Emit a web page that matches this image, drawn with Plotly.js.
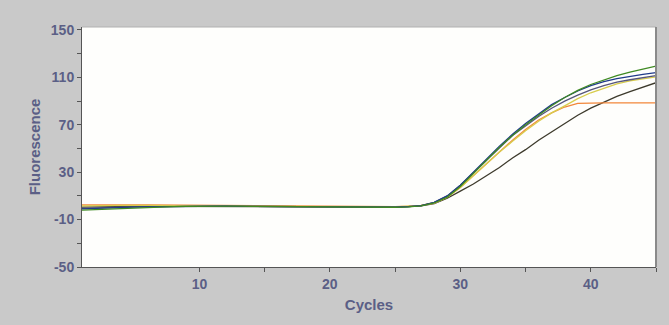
<!DOCTYPE html>
<html><head><meta charset="utf-8">
<script src="https://cdn.plot.ly/plotly-3.0.1.min.js"></script>
<style>html,body{margin:0;padding:0;background:#c9c9c9;}</style>
</head><body><div id="chart" style="width:669px;height:325px;"></div>
<script>
const cycles = Array.from({length: 45}, (_, i) => i + 1);
const seriesNames = ["Green", "Navy", "Slate", "Yellow", "Orange", "Dark"];
const seriesColors = ["#3f8a22", "#1f3a8a", "#55557a", "#d8cd4c", "#f2873a", "#3d3a2c"];
const green  = [-2.0,-1.5,-1.0,-0.5,0.0,0.3,0.6,0.9,1.1,1.3,1.4,1.4,1.3,1.2,1.1,1.0,1.0,0.9,0.8,0.7,0.6,0.5,0.3,0.2,0.4,0.8,1.5,4,9,18,29,40,51,61,70,78,86,93,99,104,108,111.5,114.5,117,119.5];
const navy   = [-1.0,-0.5,0.0,0.3,0.5,0.7,0.9,1.0,1.2,1.3,1.3,1.3,1.2,1.1,1.0,1.0,0.9,0.9,0.8,0.7,0.6,0.5,0.4,0.3,0.5,0.9,1.8,4.5,10,19,30,41,52,62,71,79,87,93,98.5,103,106.5,109,111,112.5,114];
const slate  = [-0.5,0.0,0.3,0.6,0.8,1.0,1.1,1.2,1.3,1.4,1.4,1.3,1.2,1.1,1.0,1.0,0.9,0.8,0.8,0.7,0.6,0.5,0.4,0.4,0.6,1.0,1.8,4.5,10,19,29.5,40,51,61,69,77,84,90,95,99.5,103,106,108,110,111.5];
const yellow = [1.5,1.8,2.0,2.0,2.0,1.9,1.8,1.8,1.7,1.6,1.6,1.5,1.4,1.3,1.3,1.2,1.1,1.0,1.0,0.9,0.8,0.7,0.6,0.6,0.8,1.2,2.0,4,9,17,27,37,47,56,65,73,80,86,92,97,101,104.5,107,109,110.5];
const orange = [2.5,2.6,2.6,2.5,2.4,2.3,2.2,2.1,2.0,1.9,1.8,1.8,1.7,1.6,1.5,1.4,1.3,1.2,1.1,1.0,0.9,0.8,0.7,0.7,0.9,1.3,2.0,4,9,17,27,37,47,57,66,74,80,85,88,88.5,88.5,88.5,88.5,88.5,88.5];
const dark   = [0.5,0.8,1.0,1.1,1.2,1.2,1.2,1.2,1.2,1.2,1.2,1.1,1.1,1.0,1.0,0.9,0.9,0.8,0.7,0.7,0.6,0.5,0.4,0.4,0.6,1.0,1.6,3.5,8,14,20,27,34,42,49,57,64,71,78,84,89,94,98,102,105.5];
const xTickVals = [10, 20, 30, 40];
const yTickVals = [-50, -10, 30, 70, 110, 150];

const allSeries = [green, navy, slate, yellow, orange, dark];
const order = [5, 4, 3, 2, 1, 0];
const traces = order.map(i => ({
  x: cycles, y: allSeries[i], type: 'scatter', mode: 'lines', name: seriesNames[i],
  line: {color: seriesColors[i], width: 1.3}, hoverinfo: 'skip'
}));

const fam = 'Liberation Sans, Arial, sans-serif';
const tickFont = {family: fam, size: 14, color: '#5b5f86', weight: 'bold'};
const layout = {
  width: 669, height: 325,
  paper_bgcolor: '#c9c9c9', plot_bgcolor: '#fefefc',
  margin: {l: 82, r: 13, t: 27, b: 58},
  showlegend: false,
  xaxis: {
    range: [1, 45], tickvals: xTickVals, ticktext: xTickVals.map(String),
    ticks: 'outside', ticklen: 4, tickcolor: '#555', tickfont: tickFont,
    showgrid: false, zeroline: false, showline: true, linecolor: '#555', linewidth: 1,
    minor: {tickvals: [15, 25, 35, 45], ticks: 'outside', ticklen: 4, tickcolor: '#555', showgrid: false},
    title: {text: 'Cycles', font: {family: fam, size: 15, color: '#5b5f86', weight: 'bold'}, standoff: 8}
  },
  yaxis: {
    range: [-50, 152.5], tickvals: yTickVals, ticktext: yTickVals.map(String),
    ticks: 'outside', ticklen: 4, tickcolor: '#555', tickfont: tickFont,
    showgrid: false, zeroline: false, showline: true, linecolor: '#555', linewidth: 1,
    minor: {tickvals: [-30, 10, 50, 90, 130], ticks: 'outside', ticklen: 4, tickcolor: '#555', showgrid: false},
    title: {text: 'Fluorescence', font: {family: fam, size: 15, color: '#5b5f86', weight: 'bold'}, standoff: 6}
  },
  shapes: [
    {type: 'line', xref: 'paper', yref: 'paper', x0: 0, x1: 1, y0: 1, y1: 1, line: {color: '#b0b0b0', width: 1}},
    {type: 'line', xref: 'paper', yref: 'paper', x0: 1, x1: 1, y0: 0, y1: 1, line: {color: '#8a8a8a', width: 2}}
  ]
};
Plotly.newPlot('chart', traces, layout, {displayModeBar: false, staticPlot: true});
</script></body></html>
